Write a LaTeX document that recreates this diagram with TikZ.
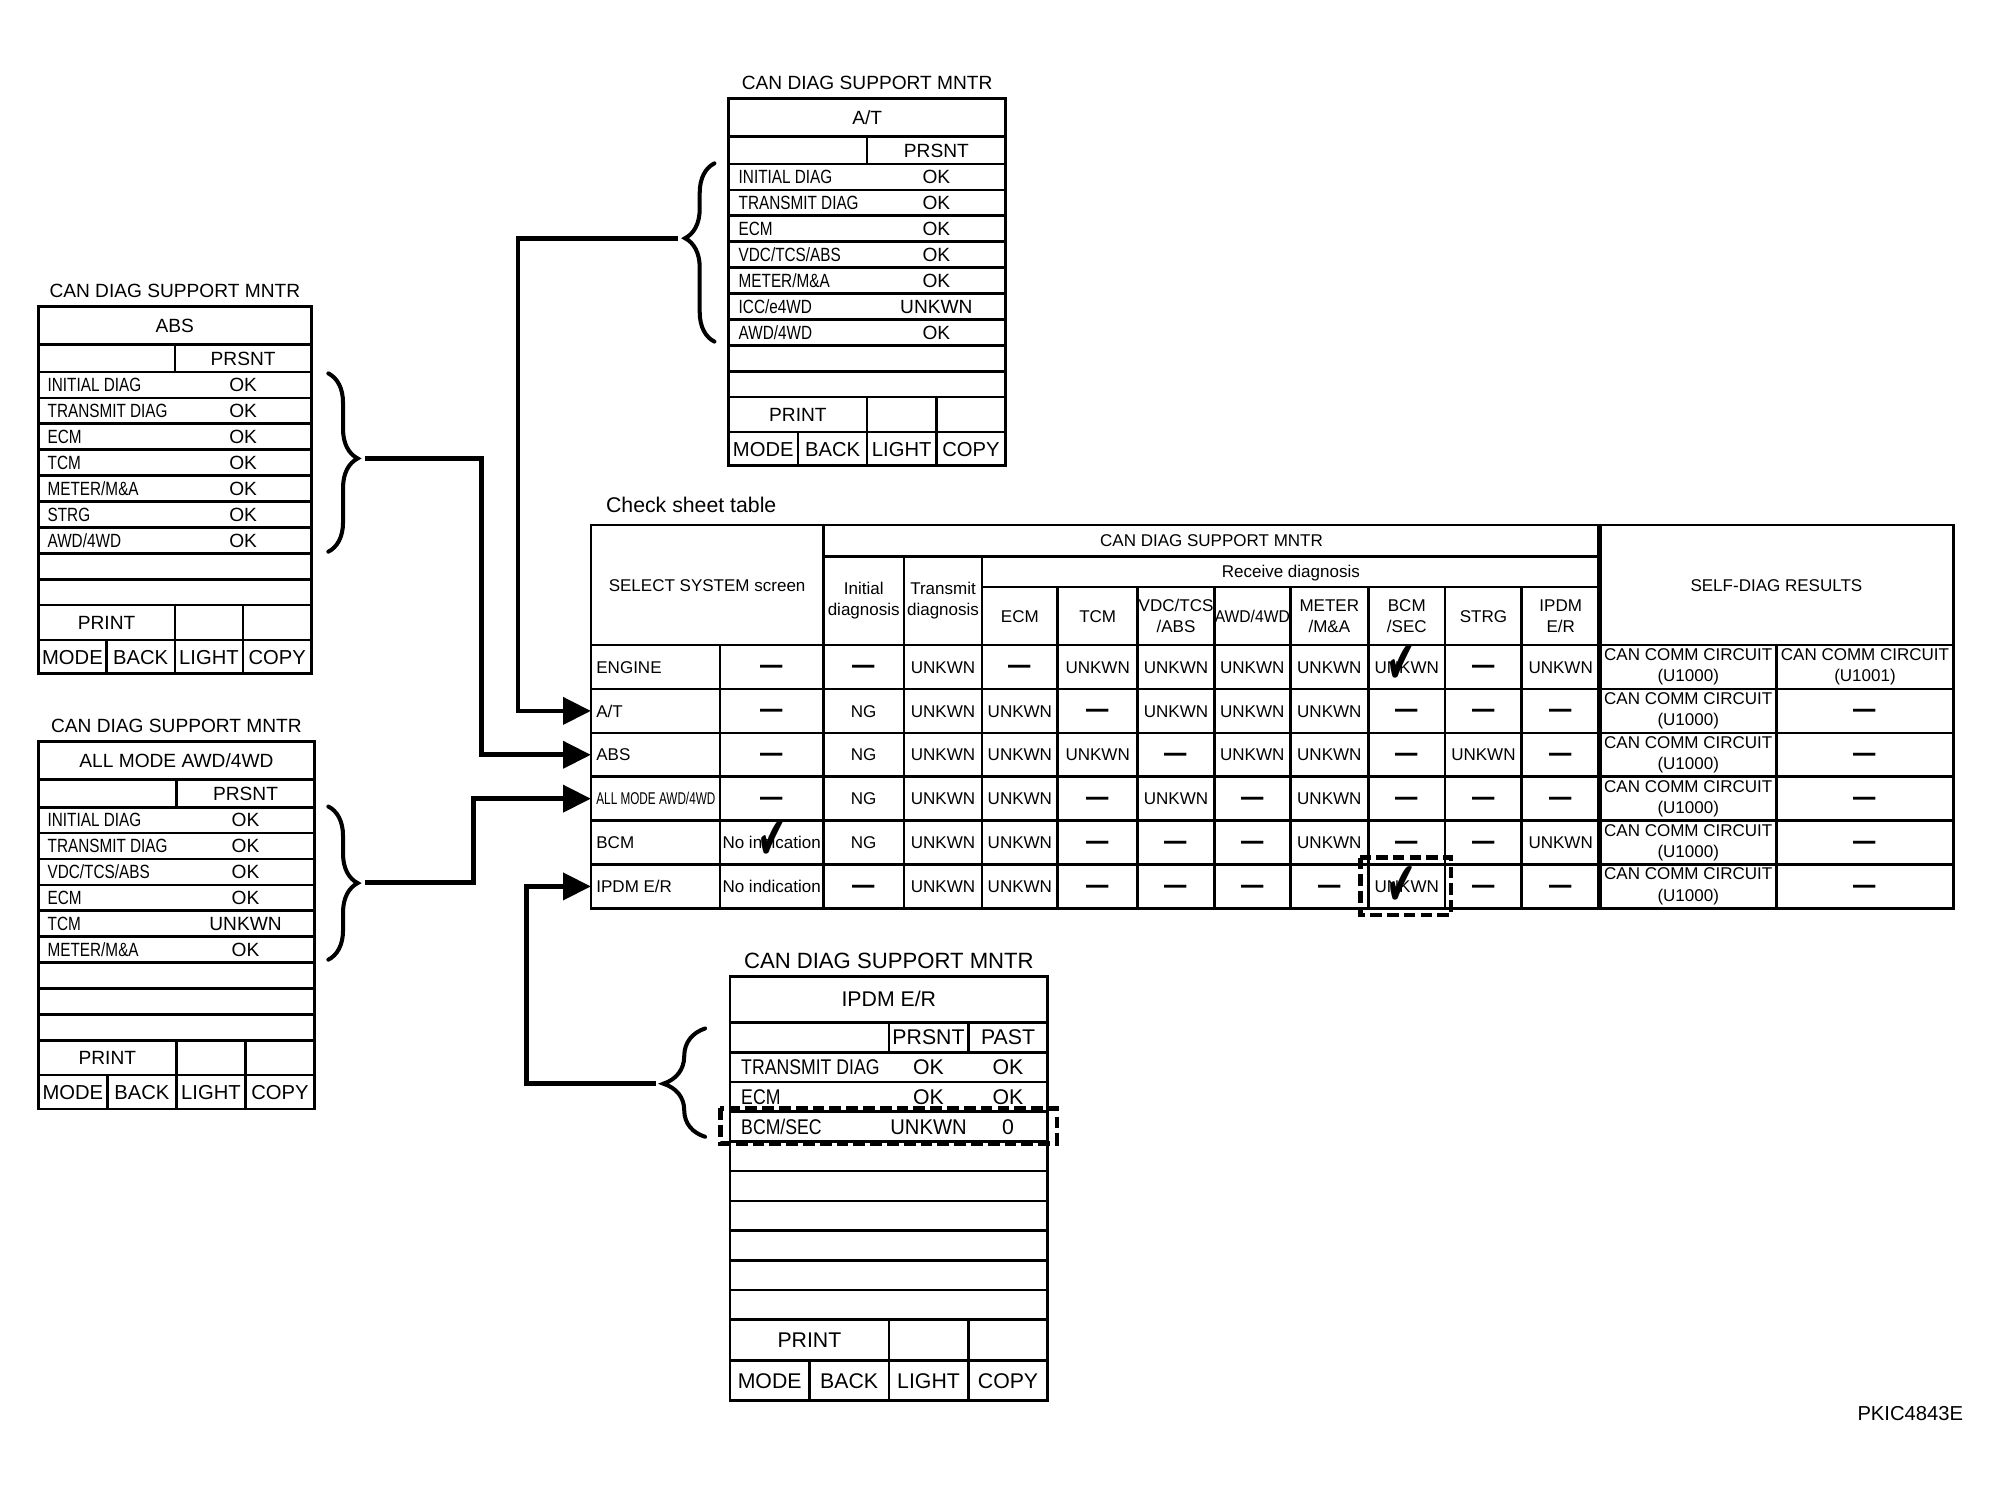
\documentclass[tikz,border=0pt]{standalone}
\usepackage{fontspec}
\setmainfont{Liberation Sans}
\newfontfamily\dejavu{DejaVu Sans}
\usepackage{graphicx}
\usetikzlibrary{arrows.meta,decorations.pathreplacing}

\newcommand\cnd[1]{\scalebox{0.8}[1]{#1}}
\newcommand\cndi[1]{\scalebox{0.83}[1]{#1}}
\newcommand\tD{\raisebox{-2.24pt}{\scalebox{1.05}[2]{\fontsize{10}{10}\selectfont —}}}
\newcommand\tU{UNKWN}
\newcommand\tN{NG}
\newcommand\tI{No indication}
\newcommand\chkmark{\dejavu\fontsize{29}{29}\selectfont\scalebox{0.58}[1]{✔}}
\def\colx{{604.7,676.8,738.95,799.15,860.15,921.55,981.3,1041.65,1102.35,1162.4,1222.95}}

% panel grid: L T W hdr prs row prt mode
\newcommand\pgrid[8]{%
\begin{scope}[shift={(#1,#2)}]
 \pgfmathsetmacro\pgYa{#4}
 \pgfmathsetmacro\pgYb{#4+#5}
 \pgfmathsetmacro\pgYc{#4+#5+9*#6}
 \pgfmathsetmacro\pgYd{\pgYc+#7}
 \pgfmathsetmacro\pgYe{\pgYd+#8}
 \draw[tl] (0,0) rectangle (#3,\pgYe);
 \draw[tl] (0,\pgYa) -- (#3,\pgYa);
 \foreach \kk in {0,...,8} {\draw[tl] (0,{\pgYb+\kk*#6}) -- (#3,{\pgYb+\kk*#6});}
 \draw[tl] (0,\pgYc) -- (#3,\pgYc);
 \draw[tl] (0,\pgYd) -- (#3,\pgYd);
 \draw[tl] ({#3/2},\pgYa) -- ({#3/2},\pgYb);
 \draw[tl] ({#3/2},\pgYc) -- ({#3/2},\pgYe);
 \draw[tl] ({#3*3/4},\pgYc) -- ({#3*3/4},\pgYe);
 \draw[tl] ({#3/4},\pgYd) -- ({#3/4},\pgYe);
\end{scope}}

% panel row: style name scaler xl xv y label value
\newcommand\prow[8]{\node[#1,anchor=west] (#2-l) at (#4,#6) {#3{#7}}; \node[#1] (#2-v) at (#5,#6) {#8};}

% table row: index y codes
\newcommand\trow[3]{\foreach \vv [count=\cc] in {#3} {\pgfmathsetmacro\xx{\colx[\cc-1]}\node[s8] (t#1-\cc) at (\xx,#2) {\csname t\vv\endcsname};}}

\begin{document}
\begin{tikzpicture}[x=0.6pt,y=-0.6pt,
  tl/.style={line width=1.25pt},
  thk/.style={line width=2.4pt},
  conn/.style={line width=2.2pt,-{Triangle[length=13pt,width=12.5pt]}},
  brc/.style={line width=1.9pt,line cap=round,decorate},
  dshr/.style={line width=2pt,dash pattern=on 5.5pt off 2.4pt},
  s8/.style={inner sep=0pt,font=\fontsize{8}{10}\selectfont,text height=5.73pt,text depth=0pt},
  s9/.style={inner sep=0pt,font=\fontsize{9}{10}\selectfont,text height=6.44pt,text depth=0pt},
  s95/.style={inner sep=0pt,font=\fontsize{9.5}{11}\selectfont,text height=6.8pt,text depth=0pt},
  s10/.style={inner sep=0pt,font=\fontsize{10}{12}\selectfont,text height=7.16pt,text depth=0pt},
  s104/.style={inner sep=0pt,font=\fontsize{10.4}{12}\selectfont,text height=7.45pt,text depth=0pt},
  m8/.style={inner sep=0pt,align=center,font=\fontsize{8}{10}\selectfont},
]
\fill[white] (0,0) rectangle (1568,1166);
\useasboundingbox (0,0) rectangle (1568,1166);

%================ A/T panel
\pgrid{571}{77}{217}{30}{21.5}{20.3}{27.3}{26.5}
\node[s9] (atT) at (679.5,64.5) {CAN DIAG SUPPORT MNTR};
\node[s9] (atH) at (679.5,92) {A/T};
\node[s9] (atP) at (733.75,117.75) {PRSNT};
\prow{s9}{at1}{\cnd}{578.5}{733.75}{138.65}{INITIAL DIAG}{OK}
\prow{s9}{at2}{\cnd}{578.5}{733.75}{158.95}{TRANSMIT DIAG}{OK}
\prow{s9}{at3}{\cnd}{578.5}{733.75}{179.25}{ECM}{OK}
\prow{s9}{at4}{\cnd}{578.5}{733.75}{199.55}{VDC/TCS/ABS}{OK}
\prow{s9}{at5}{\cnd}{578.5}{733.75}{219.85}{METER/M\&A}{OK}
\prow{s9}{at6}{\cnd}{578.5}{733.75}{240.15}{ICC/e4WD}{UNKWN}
\prow{s9}{at7}{\cnd}{578.5}{733.75}{260.45}{AWD/4WD}{OK}
\node[s9] (atPR) at (625.25,324.85) {PRINT};
\node[s95] (atM1) at (598.1,351.75) {MODE};
\node[s95] (atM2) at (652.4,351.75) {BACK};
\node[s95] (atM3) at (706.6,351.75) {LIGHT};
\node[s95] (atM4) at (760.9,351.75) {COPY};

%================ ABS panel
\pgrid{30}{240}{214}{30}{21.5}{20.3}{27.3}{26.5}
\node[s9] (absT) at (137,227.5) {CAN DIAG SUPPORT MNTR};
\node[s9] (absH) at (137,255) {ABS};
\node[s9] (absP) at (190.5,280.75) {PRSNT};
\prow{s9}{abs1}{\cnd}{37}{190.5}{301.65}{INITIAL DIAG}{OK}
\prow{s9}{abs2}{\cnd}{37}{190.5}{321.95}{TRANSMIT DIAG}{OK}
\prow{s9}{abs3}{\cnd}{37}{190.5}{342.25}{ECM}{OK}
\prow{s9}{abs4}{\cnd}{37}{190.5}{362.55}{TCM}{OK}
\prow{s9}{abs5}{\cnd}{37}{190.5}{382.85}{METER/M\&A}{OK}
\prow{s9}{abs6}{\cnd}{37}{190.5}{403.15}{STRG}{OK}
\prow{s9}{abs7}{\cnd}{37}{190.5}{423.45}{AWD/4WD}{OK}
\node[s9] (absPR) at (83.5,487.85) {PRINT};
\node[s95] (absM1) at (56.75,514.75) {MODE};
\node[s95] (absM2) at (110.25,514.75) {BACK};
\node[s95] (absM3) at (163.75,514.75) {LIGHT};
\node[s95] (absM4) at (217.25,514.75) {COPY};

%================ ALL MODE panel
\pgrid{30}{581}{216.5}{30}{21.5}{20.3}{27.3}{26.5}
\node[s9] (allT) at (138.25,568.5) {CAN DIAG SUPPORT MNTR};
\node[s9] (allH) at (138.25,596) {ALL MODE AWD/4WD};
\node[s9] (allP) at (192.4,621.75) {PRSNT};
\prow{s9}{all1}{\cnd}{37}{192.4}{642.65}{INITIAL DIAG}{OK}
\prow{s9}{all2}{\cnd}{37}{192.4}{662.95}{TRANSMIT DIAG}{OK}
\prow{s9}{all3}{\cnd}{37}{192.4}{683.25}{VDC/TCS/ABS}{OK}
\prow{s9}{all4}{\cnd}{37}{192.4}{703.55}{ECM}{OK}
\prow{s9}{all5}{\cnd}{37}{192.4}{723.85}{TCM}{UNKWN}
\prow{s9}{all6}{\cnd}{37}{192.4}{744.15}{METER/M\&A}{OK}
\node[s9] (allPR) at (84.1,828.85) {PRINT};
\node[s95] (allM1) at (57.06,855.75) {MODE};
\node[s95] (allM2) at (111.2,855.75) {BACK};
\node[s95] (allM3) at (165.3,855.75) {LIGHT};
\node[s95] (allM4) at (219.4,855.75) {COPY};

%================ IPDM panel
\pgrid{572}{765}{249}{36}{23.5}{23.3}{32}{31}
\draw[tl] (758.75,801) -- (758.75,824.5);
\node[s104] (ipT) at (696.5,753) {CAN DIAG SUPPORT MNTR};
\node[s10] (ipH) at (696.5,783) {IPDM E/R};
\node[s10] (ipP1) at (727.6,812.75) {PRSNT};
\node[s10] (ipP2) at (789.9,812.75) {PAST};
\prow{s10}{ip1}{\cndi}{580.5}{727.6}{836.15}{TRANSMIT DIAG}{OK}
\node[s10] (ip1-w) at (789.9,836.15) {OK};
\prow{s10}{ip2}{\cndi}{580.5}{727.6}{859.45}{ECM}{OK}
\node[s10] (ip2-w) at (789.9,859.45) {OK};
\prow{s10}{ip3}{\cndi}{580.5}{727.6}{882.75}{BCM/SEC}{\scalebox{0.95}[1]{UNKWN}}
\node[s10] (ip3-w) at (789.9,882.75) {0};
\node[s10] (ipPR) at (634.25,1050.2) {PRINT};
\node[s10] (ipM1) at (603.1,1081.7) {MODE};
\node[s10] (ipM2) at (665.4,1081.7) {BACK};
\node[s10] (ipM3) at (727.6,1081.7) {LIGHT};
\node[s10] (ipM4) at (789.9,1081.7) {COPY};
\draw[dshr] (564.5,868.6) rectangle (828,896);

%================ Check sheet table
\node[s10,anchor=west] (cst) at (474.6,395.5) {Check sheet table};
\coordinate (tl) at (463,411.5);
\draw[tl] (463,411.5) rectangle (1530.5,711.8);
\draw[tl] (645.2,436) -- (1253.5,436);
\draw[tl] (769.5,460) -- (1253.5,460);
\foreach \y in {505.5,539.88,574.27,608.65,643.03,677.42} {\draw[tl] (463,\y) -- (1530.5,\y);}
\draw[tl] (564.2,505.5) -- (564.2,711.8);
\draw[tl] (645.2,411.5) -- (645.2,711.8);
\foreach \x in {708.4,769.5} {\draw[tl] (\x,436) -- (\x,711.8);}
\foreach \x in {828.8,891.5,951.6,1011,1072.3,1132.4,1192.4} {\draw[tl] (\x,460) -- (\x,711.8);}
\draw[thk] (1253.5,411.5) -- (1253.5,711.8);
\draw[tl] (1392.3,505.5) -- (1392.3,711.8);

% headers
\node[s8] (hSel) at (554.1,458.5) {SELECT SYSTEM screen};
\node[s8] (hCan) at (949.35,423.75) {CAN DIAG SUPPORT MNTR};
\node[m8] (hIni) at (676.8,470.75) {Initial\\diagnosis};
\node[m8] (hTra) at (738.95,470.75) {Transmit\\diagnosis};
\node[s8] (hRec) at (1011.5,448) {Receive diagnosis};
\node[s8] (hECM) at (799.15,482.75) {ECM};
\node[s8] (hTCM) at (860.15,482.75) {TCM};
\node[m8] (hVDC) at (921.55,482.75) {VDC/TCS\\/ABS};
\node[s8] (hAWD) at (981.3,482.75) {\scalebox{0.92}[1]{AWD/4WD}};
\node[m8] (hMET) at (1041.65,482.75) {METER\\/M\&A};
\node[m8] (hBCM) at (1102.35,482.75) {BCM\\/SEC};
\node[s8] (hSTR) at (1162.4,482.75) {STRG};
\node[m8] (hIPD) at (1222.95,482.75) {IPDM\\E/R};
\node[s8] (hSelf) at (1392,458.5) {SELF-DIAG RESULTS};

% row labels
\node[s8,anchor=west] (rENG) at (467,522.69) {ENGINE};
\node[s8,anchor=west] (rAT) at (467,557.08) {A/T};
\node[s8,anchor=west] (rABS) at (467,591.46) {ABS};
\node[s8,anchor=west] (rALL) at (467,625.84) {\scalebox{0.69}[1]{ALL MODE AWD/4WD}};
\node[s8,anchor=west] (rBCM) at (467,660.23) {BCM};
\node[s8,anchor=west] (rIPDM) at (467,694.61) {IPDM E/R};

% cells
\trow{1}{522.69}{D,D,U,D,U,U,U,U,U,D,U}
\trow{2}{557.08}{D,N,U,U,D,U,U,U,D,D,D}
\trow{3}{591.46}{D,N,U,U,U,D,U,U,D,U,D}
\trow{4}{625.84}{D,N,U,U,D,U,D,U,D,D,D}
\trow{5}{660.23}{I,N,U,U,D,D,D,U,D,D,U}
\trow{6}{694.61}{I,D,U,U,D,D,D,D,U,D,D}
\foreach \y [count=\rr] in {522.69,557.08,591.46,625.84,660.23,694.61} {\node[m8] (t\rr-12) at (1322.9,\y) {CAN COMM CIRCUIT\\(U1000)};}
\node[m8] (t1-13) at (1461.4,522.69) {CAN COMM CIRCUIT\\(U1001)};
\foreach \y [count=\rr from 2] in {557.08,591.46,625.84,660.23,694.61} {\node[s8] (t\rr-13) at (1461.4,\y) {\tD};}

% check marks
\node[inner sep=0pt] (ck1) at (605,658) {\chkmark};
\node[inner sep=0pt] (ck2) at (1098,520) {\chkmark};
\node[inner sep=0pt] (ck3) at (1098,694) {\chkmark};
\draw[dshr] (1066,672) rectangle (1137,717);

%================ braces and connectors
\draw[brc,decoration={brace,amplitude=13.8pt,aspect=0.58}] (559.8,267.7) -- (559.8,128);
\draw[brc,decoration={brace,amplitude=13.8pt,aspect=0.477}] (257.3,292.6) -- (257.3,432.3);
\draw[brc,decoration={brace,amplitude=13.8pt,aspect=0.5}] (257.3,632) -- (257.3,752);
\draw[brc,decoration={brace,amplitude=19.6pt,aspect=0.49}] (552.5,890.8) -- (552.5,805.9);

\coordinate (bAT) at (531,186.8);
\coordinate (bABS) at (286,359.2);
\coordinate (bALL) at (286,691.5);
\coordinate (bIP) at (514,849);
\draw[conn] (bAT) -- ++(-125,0) |- (rAT.west -| tl);
\draw[conn] (bABS) -- ++(91.5,0) |- (rABS.west -| tl);
\draw[conn] (bALL) -- ++(85,0) |- (rALL.west -| tl);
\draw[conn] (bIP) -- ++(-101.3,0) |- (rIPDM.west -| tl);

\node[s95,anchor=east] (code) at (1538.6,1107.5) {PKIC4843E};
\end{tikzpicture}
\end{document}
